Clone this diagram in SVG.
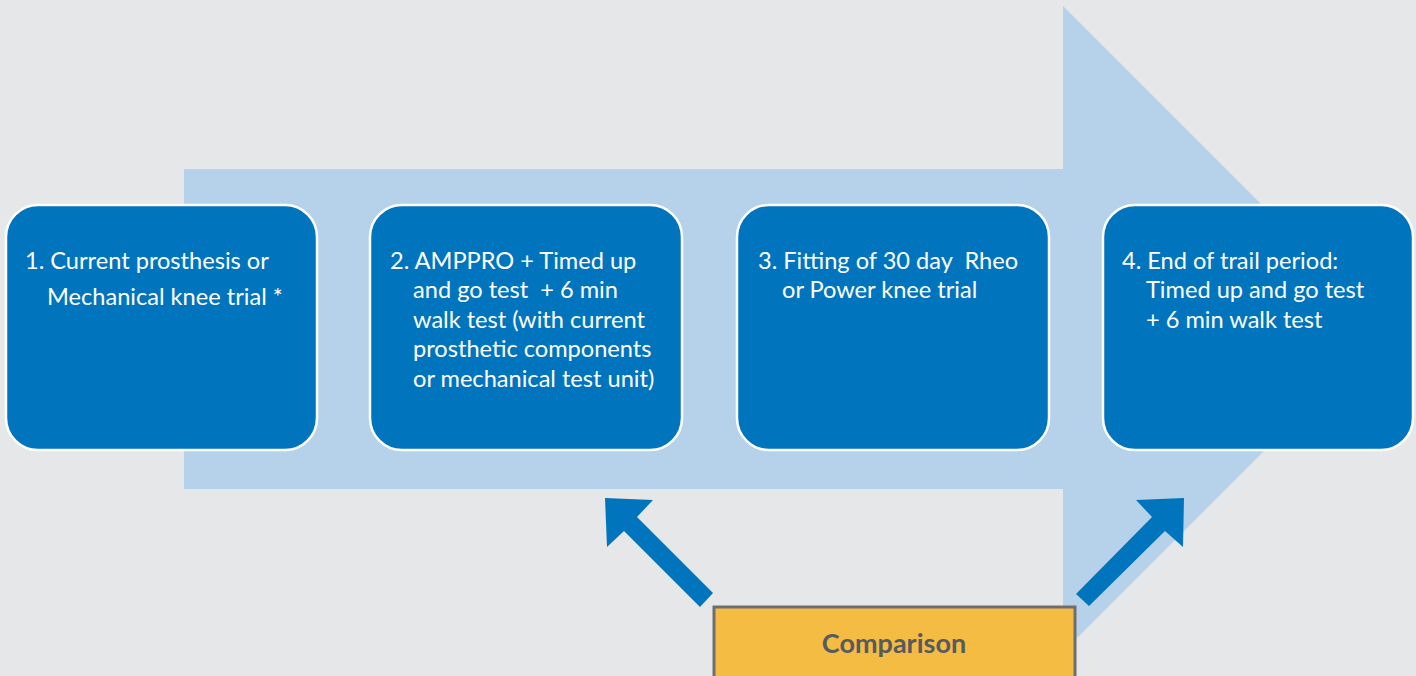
<svg xmlns="http://www.w3.org/2000/svg" width="1416" height="676" viewBox="0 0 1416 676">
<style>
.box{fill:#0075BE;stroke:#FFFFFF;stroke-width:2.5}
.t{font-family:Lato,"Open Sans","Liberation Sans",sans-serif;font-size:23.6px;fill:#FFFFFF;white-space:pre}
.arr{fill:#0075BE}
.cmp{fill:#F5BC43;stroke:#6E6E6E;stroke-width:3}
.ct{font-family:Lato,"Open Sans","Liberation Sans",sans-serif;font-size:27px;font-weight:bold;fill:#575A5E}
</style>
<rect x="0" y="0" width="1416" height="676" fill="#E6E7E9"/>
<path id="big-arrow" d="M184,169 H1063 V6 L1386,329 L1063,652 V489 H184 Z" fill="#B6D2EA"/>
<g id="connectors">
<polygon class="arr" points="605,498 653,500 637,517 713,593 700,607 624,531 607,547"/>
<polygon class="arr" points="1184,498 1183,547 1165,531 1089,606 1076,594 1152,517 1136,500"/>
</g>
<g id="node1">
<rect class="box" x="6" y="205" width="311" height="245" rx="32"/>
<text class="t" x="25" y="269">1. Current prosthesis or</text>
<text class="t" x="47" y="305">Mechanical knee trial *</text>
</g>
<g id="node2">
<rect class="box" x="370" y="205" width="312" height="245" rx="32"/>
<text class="t" x="390" y="269">2. AMPPRO + Timed up</text>
<text class="t" x="413" y="298" xml:space="preserve">and go test  + 6 min</text>
<text class="t" x="413" y="328">walk test (with current</text>
<text class="t" x="413" y="357">prosthetic components</text>
<text class="t" x="413" y="387">or mechanical test unit)</text>
</g>
<g id="node3">
<rect class="box" x="737" y="205" width="312" height="245" rx="32"/>
<text class="t" x="758" y="269" xml:space="preserve">3. Fitting of 30 day  Rheo</text>
<text class="t" x="782" y="298">or Power knee trial</text>
</g>
<g id="node4">
<rect class="box" x="1103" y="205" width="310" height="245" rx="32"/>
<text class="t" x="1122" y="269">4. End of trail period:</text>
<text class="t" x="1146" y="298">Timed up and go test</text>
<text class="t" x="1146" y="328">+ 6 min walk test</text>
</g>
<g id="comparison">
<rect class="cmp" x="714" y="607" width="361" height="80"/>
<text class="ct" x="894" y="653" text-anchor="middle">Comparison</text>
</g>
</svg>
